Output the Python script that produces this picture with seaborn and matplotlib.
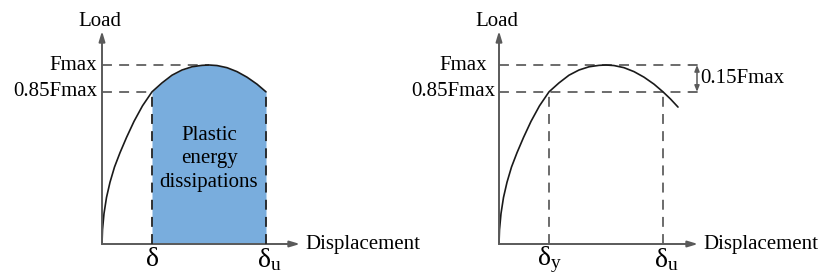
import numpy as np
import pandas as pd
import matplotlib
matplotlib.use('Agg')
from matplotlib import pyplot as plt
import seaborn as sns

# load-displacement curve (delta = 1, Fmax = 1)
disp_rise = [0, 0.01, 0.04, 0.09, 0.16, 0.25, 0.36, 0.49, 0.64, 0.81, 1.0]
load_rise = [0, 0.08, 0.17, 0.26, 0.345, 0.43, 0.51, 0.595, 0.685, 0.772, 0.85]
disp_arc = [1.2, 1.4, 1.6, 1.8, 2.0, 2.14, 2.3, 2.5, 2.7, 2.9, 3.1, 3.28]
load_arc = [0.90, 0.943, 0.972, 0.99, 0.998, 1.0, 0.997, 0.985, 0.963, 0.932, 0.893, 0.85]
disp_tail = [3.43, 3.58]
load_tail = [0.81, 0.765]

d_y, d_peak, d_u = 1.0, 2.14, 3.28
f_max, f_85 = 1.0, 0.85

sns.set_theme(style='white')
plt.rcParams['font.family'] = ['Liberation Serif', 'DejaVu Serif']
plt.rcParams['text.color'] = 'black'
plt.rcParams['mathtext.fontset'] = 'custom'
plt.rcParams['mathtext.rm'] = 'Liberation Serif'
plt.rcParams['mathtext.it'] = 'Liberation Serif:italic'

W, H = 825, 276
fig = plt.figure(figsize=(W / 100, H / 100), dpi=100)

PX_X, PX_Y = 50.0, 179.0  # pixels per unit
AXIS_C = '#5a5a5a'
DASH_C = '#606060'
FS = 15


def make_ax(x_from, x_to, x0, y0=244):
    ax = fig.add_axes([x_from / W, 0, (x_to - x_from) / W, 1])
    ax.set_xlim((x_from - x0) / PX_X, (x_to - x0) / PX_X)
    ax.set_ylim(-(H - y0) / PX_Y, y0 / PX_Y)
    ax.axis('off')
    return ax


def axes_arrows(ax, x_end):
    ax.annotate('', xy=(0, 1.19), xytext=(0, 0),
                arrowprops=dict(arrowstyle='-|>,head_length=0.5,head_width=0.15',
                                color=AXIS_C, lw=1.4, shrinkA=0, shrinkB=0))
    ax.annotate('', xy=(x_end, 0), xytext=(0, 0),
                arrowprops=dict(arrowstyle='-|>,head_length=0.5,head_width=0.15',
                                color=AXIS_C, lw=1.4, shrinkA=0, shrinkB=0))
    ax.text(x_end + 0.1, 0, 'Displacement', fontsize=FS, ha='left', va='center')
    ax.text(-0.04, 1.245, 'Load', fontsize=FS, ha='center', va='center')


dash = (5.5, 4.0)

# ---- left panel
axl = make_ax(0, 412, 102)
df_l = pd.DataFrame({'disp': disp_rise + disp_arc, 'load': load_rise + load_arc})
arc_x = [d_y] + disp_arc
arc_f = [f_85] + load_arc
axl.fill_between(arc_x, 0, arc_f, color='#79addd', lw=0, zorder=1)
sns.lineplot(data=df_l, x='disp', y='load', ax=axl, sort=False, color='#1a1a1a',
             lw=1.2, zorder=3)
axes_arrows(axl, 3.96)
axl.plot([0, d_peak], [f_max, f_max], color=DASH_C, lw=1.3, dashes=dash)
axl.plot([0, d_y], [f_85, f_85], color=DASH_C, lw=1.3, dashes=dash)
for xv in (d_y, d_u):
    axl.plot([xv, xv], [0, f_85], color='#222222', lw=1.3, dashes=dash, zorder=4)
axl.text(-0.1, f_max, 'Fmax', fontsize=FS, ha='right', va='center')
axl.text(-0.1, f_85, '0.85Fmax', fontsize=FS, ha='right', va='center')
axl.text(d_y, -0.085, r'$\mathrm{\delta}$', fontsize=20, ha='center', va='center')
axl.text(d_u + 0.06, -0.085, r'$\mathrm{\delta_u}$', fontsize=20, ha='center', va='center')
axl.text((d_y + d_u) / 2, 0.475, 'Plastic\nenergy\ndissipations', fontsize=FS,
         ha='center', va='center', linespacing=1.3, zorder=5)

# ---- right panel
axr = make_ax(412, 825, 499)
df_r = pd.DataFrame({'disp': disp_rise + disp_arc + disp_tail,
                     'load': load_rise + load_arc + load_tail})
sns.lineplot(data=df_r, x='disp', y='load', ax=axr, sort=False, color='#1a1a1a',
             lw=1.2, zorder=3)
axes_arrows(axr, 3.98)
x_br = 3.96
axr.plot([0, x_br - 0.14], [f_max, f_max], color=DASH_C, lw=1.3, dashes=dash)
axr.plot([0, x_br - 0.14], [f_85, f_85], color=DASH_C, lw=1.3, dashes=dash)
for xv in (d_y, d_u):
    axr.plot([xv, xv], [0, f_85], color=DASH_C, lw=1.3, dashes=dash)
axr.plot([x_br - 0.14, x_br], [f_max, f_max], color=AXIS_C, lw=1.3)
axr.plot([x_br - 0.14, x_br], [f_85, f_85], color=AXIS_C, lw=1.3)
axr.annotate('', xy=(x_br, f_85), xytext=(x_br, f_max),
             arrowprops=dict(arrowstyle='<|-|>,head_length=0.3,head_width=0.12',
                             color=AXIS_C, lw=1.1, shrinkA=0, shrinkB=0))
axr.text(x_br + 0.06, 0.925, '0.15Fmax', fontsize=FS, ha='left', va='center')
axr.text(-0.24, f_max, 'Fmax', fontsize=FS, ha='right', va='center')
axr.text(-0.08, f_85, '0.85Fmax', fontsize=FS, ha='right', va='center')
axr.text(d_y, -0.085, r'$\mathrm{\delta_y}$', fontsize=20, ha='center', va='center')
axr.text(d_u + 0.06, -0.085, r'$\mathrm{\delta_u}$', fontsize=20, ha='center', va='center')

fig.savefig('out.png', dpi=100, facecolor='white')
